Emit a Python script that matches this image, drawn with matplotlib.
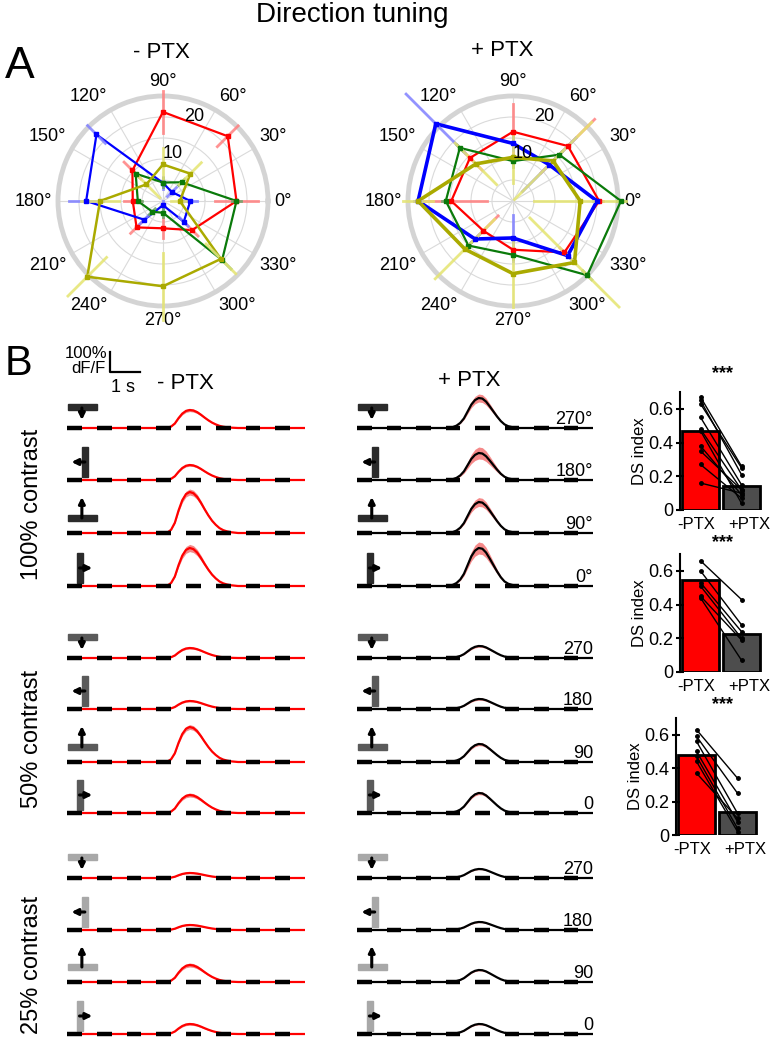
# -*- coding: utf-8 -*-
"""
Direction tuning figure: polar tuning curves (A) and dF/F traces + DS index (B).
"""
import numpy as np
import matplotlib
matplotlib.use('Agg')
import matplotlib.pyplot as plt
from matplotlib.patches import Rectangle

plt.rcParams['font.family'] = ['Liberation Sans', 'DejaVu Sans']

W, H = 773, 1050

# ---------------- panel A data (responses at 8 directions) ----------------
directions = [0, 45, 90, 135, 180, 225, 270, 315]
cell_colors = ['#ff0000', '#0000ff', '#0a7a0a', '#aaaa00']
err_colors = ['#ff8080', '#8080ff', '#6aa56a', '#e4e470']

ctrl_red = [17.5, 21.8, 21.2, 10.3, 7.2, 8.9, 6.5, 9.8]
ctrl_blue = [6.5, 3.0, 4.3, 22.4, 18.3, 6.3, 1.0, 7.0]
ctrl_green = [17.5, 6.3, 4.4, 9.2, 6.0, 3.6, 2.8, 19.9]
ctrl_olive = [4.0, 9.2, 8.7, 5.6, 15.0, 25.5, 20.3, 19.5]
ctrl_red_err = [5.2, 3.5, 5.0, 2.8, 2.0, 2.0, 2.4, 2.0]
ctrl_blue_err = [1.7, 1.5, 1.5, 3.0, 4.0, 1.5, 1.0, 1.5]
ctrl_green_err = [1.0, 1.0, 1.0, 1.0, 1.0, 1.0, 1.0, 3.0]
ctrl_olive_err = [2.0, 3.7, 4.0, 4.5, 4.5, 6.5, 8.0, 5.0]

ptx_red = [20.5, 18.5, 16.5, 14.5, 14.7, 10.0, 11.6, 17.3]
ptx_blue = [20.0, 12.2, 13.7, 26.0, 22.6, 12.8, 8.8, 18.4]
ptx_green = [25.7, 15.6, 9.5, 17.9, 16.0, 15.0, 12.8, 25.0]
ptx_olive = [16.0, 13.5, 10.4, 12.5, 22.6, 16.2, 17.3, 20.7]
ptx_red_err = [1.0, 9.0, 6.7, 4.0, 8.5, 5.0, 1.5, 1.5]
ptx_blue_err = [1.0, 9.0, 1.5, 10.0, 1.0, 1.5, 5.5, 1.5]
ptx_green_err = [1.0, 1.0, 1.5, 1.0, 1.0, 1.0, 1.0, 1.5]
ptx_olive_err = [11.0, 13.0, 6.0, 7.0, 3.6, 10.0, 8.0, 15.0]

# ---------------- panel B data ----------------
stim_dirs = [270, 180, 90, 0]
contrasts = ['100%', '50%', '25%']
# normalised response profiles (time in s)
t_ctrl = [3.25, 3.375, 3.5, 3.625, 3.75, 3.875, 4.0, 4.125, 4.25, 4.375, 4.5,
          4.625, 4.75, 4.875, 5.0, 5.125, 5.25, 5.375, 5.5, 5.625, 5.75]
prof_ctrl = [0, 0.01, 0.08, 0.25, 0.55, 0.8, 0.95, 1.0, 0.97, 0.88, 0.74,
             0.58, 0.43, 0.3, 0.2, 0.12, 0.07, 0.04, 0.02, 0.01, 0]
t_ptx = [3.0, 3.125, 3.25, 3.375, 3.5, 3.625, 3.75, 3.875, 4.0, 4.125, 4.25,
         4.375, 4.5, 4.625, 4.75, 4.875, 5.0, 5.125, 5.25, 5.375, 5.5]
prof_ptx = [0, 0.01, 0.03, 0.08, 0.17, 0.32, 0.55, 0.78, 0.93, 1.0, 0.98,
            0.88, 0.72, 0.55, 0.38, 0.23, 0.12, 0.06, 0.03, 0.01, 0]
# peak dF/F (%) per contrast, rows 270/180/90/0
peak_ctrl = {'100%': [90, 75, 205, 190], '50%': [50, 40, 175, 90], '25%': [25, 25, 85, 50]}
peak_ptx = {'100%': [150, 135, 155, 190], '50%': [60, 50, 90, 100], '25%': [45, 40, 60, 50]}
sem_ctrl = {'100%': [8, 6, 15, 18], '50%': [5, 4, 12, 10], '25%': [3, 3, 10, 6]}
sem_ptx = {'100%': [20, 30, 22, 30], '50%': [6, 6, 8, 8], '25%': [3, 3, 4, 4]}
stim_gray = {'100%': '#2b2b2b', '50%': '#5a5a5a', '25%': '#a8a8a8'}

# DS index, paired cells (-PTX, +PTX)
ds_ctrl = {'100%': [0.67, 0.65, 0.63, 0.55, 0.48, 0.47, 0.38, 0.35, 0.27, 0.16],
           '50%': [0.66, 0.60, 0.53, 0.51, 0.45, 0.44],
           '25%': [0.63, 0.59, 0.56, 0.50, 0.47, 0.44, 0.37]}
ds_ptx = {'100%': [0.26, 0.21, 0.25, 0.15, 0.12, 0.04, 0.09, 0.12, 0.07, 0.10],
          '50%': [0.43, 0.28, 0.24, 0.20, 0.19, 0.07],
          '25%': [0.34, 0.25, 0.13, 0.08, 0.04, 0.02, 0.10]}
ds_mean = {'100%': [0.47, 0.14], '50%': [0.545, 0.225], '25%': [0.48, 0.135]}
bar_labels = ['-PTX', '+PTX']


def px_axes(fig, x0, y0, x1, y1, **kw):
    return fig.add_axes([x0 / W, 1 - y1 / H, (x1 - x0) / W, (y1 - y0) / H], **kw)


def draw_polar(ax, rs, errs, lws):
    th = np.deg2rad(directions + [directions[0]])
    for r, e, c, ec, lw in zip(rs, errs, cell_colors, err_colors, lws):
        ax.plot(th, r + [r[0]], color=c, lw=lw, zorder=3, clip_on=False)
        for d, ri, ei in zip(directions, r, e):
            t = np.deg2rad(d)
            ax.plot([t, t], [max(ri - ei, 0), ri + ei], color=ec, lw=2,
                    alpha=0.85, zorder=4, clip_on=False)
        ax.plot(np.deg2rad(directions), r, 's', ms=3, color=c, zorder=5, clip_on=False)
    ax.set_ylim(0, 25)
    ax.set_yticks([5, 10, 15, 20])
    ax.set_yticklabels([])
    ax.set_xticks(np.deg2rad(np.arange(0, 360, 30)))
    ax.set_xticklabels([])
    ax.grid(color='#dadada', lw=0.8)
    ax.spines['polar'].set_color('#d4d4d4')
    ax.spines['polar'].set_linewidth(3.5)
    for a in range(0, 360, 30):
        c, s = np.cos(np.deg2rad(a)), np.sin(np.deg2rad(a))
        ha = 'left' if c > 0.3 else ('right' if c < -0.3 else 'center')
        va = 'bottom' if s > 0.3 else ('top' if s < -0.3 else 'center')
        ax.text(np.deg2rad(a), 26.5, '%d°' % a, ha=ha, va=va, fontsize=13)
    ax.text(np.deg2rad(70), 21.5, '20', ha='center', va='center', fontsize=13, zorder=6)
    ax.text(np.deg2rad(78), 11.5, '10', ha='center', va='center', fontsize=13, zorder=6)


def draw_icon(ax, d, shade):
    if d in (270, 90):
        y0, y1 = (90, 120) if d == 270 else (60, 90)
        ax.add_patch(Rectangle((0.03, y0), 0.97, y1 - y0, color=shade, zorder=2))
        if d == 270:
            start, end = (0.5, 100), (0.5, 40)
        else:
            start, end = (0.5, 75), (0.5, 180)
    else:
        x0 = 0.5 if d == 180 else 0.33
        ax.add_patch(Rectangle((x0, 15), 0.2, 150, color=shade, zorder=2))
        if d == 180:
            start, end = (0.6, 90), (0.15, 90)
        else:
            start, end = (0.42, 90), (0.85, 90)
    ax.annotate('', xy=end, xytext=start,
                arrowprops=dict(arrowstyle='-|>', color='k', lw=2.2,
                                mutation_scale=9, shrinkA=0, shrinkB=0), zorder=3)


def draw_trace(ax, t, prof, amp, sem, line_color):
    tt = [0] + t + [8]
    y = np.array([0] + prof + [0]) * amp
    s = np.array([0] + prof + [0]) * sem
    ax.fill_between(tt, y - s, y + s, color='#f47c7c', lw=0, alpha=0.9, zorder=1)
    ax.plot(tt, y, color=line_color, lw=1.6, zorder=2)
    for k in range(8):
        ax.plot([k, k + 0.5], [0, 0], color='k', lw=3.2, solid_capstyle='butt', zorder=3)
    ax.set_xlim(0, 8)
    ax.set_ylim(-50, 250)
    ax.axis('off')


fig = plt.figure(figsize=(W / 100, H / 100), dpi=100)

fig.text(352 / W, 1 - 22 / H, 'Direction tuning', ha='center', va='baseline', fontsize=20)
fig.text(5 / W, 1 - 78 / H, 'A', ha='left', va='baseline', fontsize=32)
fig.text(5 / W, 1 - 375 / H, 'B', ha='left', va='baseline', fontsize=30)
fig.text(161 / W, 1 - 52 / H, '- PTX', ha='center', va='center', fontsize=16)
fig.text(502 / W, 1 - 50 / H, '+ PTX', ha='center', va='center', fontsize=16)

axA1 = px_axes(fig, 58, 96, 268, 306, projection='polar')
draw_polar(axA1, [ctrl_red, ctrl_blue, ctrl_green, ctrl_olive],
           [ctrl_red_err, ctrl_blue_err, ctrl_green_err, ctrl_olive_err],
           [1.6, 1.6, 1.6, 1.8])
axA2 = px_axes(fig, 408, 96, 618, 306, projection='polar')
draw_polar(axA2, [ptx_red, ptx_blue, ptx_green, ptx_olive],
           [ptx_red_err, ptx_blue_err, ptx_green_err, ptx_olive_err],
           [1.6, 2.6, 1.6, 2.6])

# traces
baselines = {'100%': [428, 480, 533, 586], '50%': [658, 709, 762, 813], '25%': [878, 930, 982, 1034]}
label_y = {'100%': 504, '50%': 739, '25%': 965}
ds_box = {'100%': (680, 392, 762, 510), '50%': (680, 554, 762, 672), '25%': (676, 718, 758, 835)}
star_y = {'100%': 374, '50%': 543, '25%': 705}

for cond in contrasts:
    fig.text(32 / W, 1 - label_y[cond] / H, cond + ' contrast', rotation=90,
             ha='center', va='center', fontsize=17)
    for i, d in enumerate(stim_dirs):
        b = baselines[cond][i]
        ax1 = px_axes(fig, 67, b - 50, 305, b + 10)
        draw_trace(ax1, t_ctrl, prof_ctrl, peak_ctrl[cond][i], sem_ctrl[cond][i], '#ff0000')
        draw_icon(ax1, d, stim_gray[cond])
        ax2 = px_axes(fig, 357, b - 50, 593, b + 10)
        draw_trace(ax2, t_ptx, prof_ptx, peak_ptx[cond][i], sem_ptx[cond][i], 'k')
        draw_icon(ax2, d, stim_gray[cond])
        lab = '%d°' % d if cond == '100%' else '%d' % d
        ax2.text(8, 22, lab, ha='right', va='baseline', fontsize=13, zorder=5)
        if cond == '100%' and i == 0:
            # scale bar: 1 s, 100% dF/F
            ax1.plot([1.45, 1.45, 2.45], [380, 280, 280], color='k', lw=1.6, clip_on=False)

    # DS index bars
    x0, y0, x1, y1 = ds_box[cond]
    axb = px_axes(fig, x0, y0, x1, y1)
    axb.bar([0, 1], ds_mean[cond], width=0.9, color=['#ff0000', '#4d4d4d'],
            edgecolor='k', lw=2, zorder=1)
    for a, p in zip(ds_ctrl[cond], ds_ptx[cond]):
        axb.plot([0, 1], [a, p], color='k', lw=1, marker='o', ms=2.5, zorder=3, clip_on=False)
    axb.set_xlim(-0.5, 1.5)
    axb.set_ylim(0, 0.7)
    axb.set_yticks([0, 0.2, 0.4, 0.6])
    axb.set_yticklabels(['0', '0.2', '0.4', '0.6'], fontsize=13)
    axb.set_xticks([])
    for xl, lab in zip([-0.1, 1.2], bar_labels):
        axb.text(xl, -0.04, lab, ha='center', va='top', fontsize=12)
    axb.tick_params(axis='y', direction='inout', length=6, width=1.5, pad=2)
    for sp in ['top', 'right', 'bottom']:
        axb.spines[sp].set_visible(False)
    axb.spines['left'].set_linewidth(1.5)
    axb.set_ylabel('DS index', fontsize=12, labelpad=1)
    fig.text(723 / W, 1 - star_y[cond] / H, '***', ha='center', va='center',
             fontsize=13, fontweight='bold')

fig.text(185 / W, 1 - 383 / H, '- PTX', ha='center', va='center', fontsize=16)
fig.text(469 / W, 1 - 380 / H, '+ PTX', ha='center', va='center', fontsize=16)
fig.text(107 / W, 1 - 358 / H, '100%', ha='right', va='baseline', fontsize=12)
fig.text(105 / W, 1 - 373 / H, 'dF/F', ha='right', va='baseline', fontsize=12)
fig.text(123 / W, 1 - 392 / H, '1 s', ha='center', va='baseline', fontsize=13)

fig.savefig('out.png', dpi=100)
